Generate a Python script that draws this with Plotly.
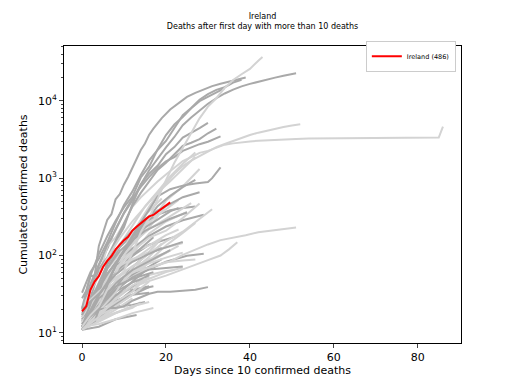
import plotly.graph_objects as go

DARK = "#a9a9a9"
LIGHT = "#d3d3d3"
RED = "#ff0000"

# ---------------- data (days since first day > 10 deaths, cumulated deaths) ----------------
ireland_days = list(range(22))
ireland_deaths = [19, 22, 36, 46, 54, 71, 85, 98, 120, 137, 158, 174, 210, 235, 263, 288, 320, 334, 365, 406, 444, 486]

# Europe (dark grey)
italy_days = [0, 2, 4, 6, 8, 10, 12, 14, 16, 18, 20, 22, 24, 26, 28, 30, 32, 34, 36, 38, 40, 42, 44, 46, 48, 50, 51]
italy_deaths = [12, 21, 34, 79, 148, 233, 463, 827, 1266, 1809, 2503, 3405, 4825, 6077, 7503, 9134, 10779, 12428, 13915, 15362, 16523, 17669, 18849, 19899, 21067, 22170, 22745]
spain_days = [0, 1, 2, 3, 4, 5, 6, 7, 8, 9, 10, 11, 12, 13, 14, 15, 16, 17, 19, 21, 23, 25, 27, 29, 31, 33, 35, 37, 39]
spain_deaths = [28, 35, 54, 55, 133, 195, 289, 342, 533, 623, 830, 1043, 1375, 1772, 2311, 2808, 3647, 4365, 5982, 7716, 9387, 11198, 12641, 14045, 15447, 16606, 17756, 18708, 20002]
france_days = [0, 2, 4, 6, 8, 10, 12, 14, 16, 18, 20, 22, 24, 26, 28, 30, 32, 34, 36, 38]
france_deaths = [33, 61, 91, 148, 264, 450, 674, 1100, 1696, 2314, 3024, 4403, 6507, 8078, 10328, 12210, 13832, 14967, 17167, 18681]
uk_days = [0, 2, 4, 6, 8, 10, 12, 14, 16, 18, 20, 22, 24, 26, 28, 30, 32, 34]
uk_deaths = [21, 55, 104, 177, 281, 422, 578, 1019, 1408, 2352, 3605, 4934, 6159, 7978, 9875, 11329, 12868, 14576]
germany_days = [0, 2, 4, 6, 8, 10, 12, 14, 16, 18, 20, 22, 24, 26, 28, 30, 32]
germany_deaths = [17, 28, 67, 94, 157, 267, 433, 645, 920, 1275, 1584, 2016, 2607, 2871, 3194, 3804, 4352]
netherlands_days = [0, 2, 4, 6, 8, 10, 12, 14, 16, 18, 20, 22, 24, 26, 28, 30, 32, 33]
netherlands_deaths = [20, 43, 76, 136, 213, 356, 546, 771, 1039, 1339, 1651, 1867, 2248, 2511, 2747, 2955, 3315, 3459]
belgium_days = [0, 2, 4, 6, 8, 10, 12, 14, 16, 18, 20, 22, 24, 26, 28, 30]
belgium_deaths = [14, 37, 75, 122, 220, 353, 513, 828, 1143, 1447, 2035, 2523, 3346, 3903, 4440, 5163]
sweden_days = [0, 3, 6, 9, 12, 15, 18, 21, 24, 27, 30, 31, 33]
sweden_deaths = [12, 25, 45, 95, 180, 330, 580, 720, 800, 850, 890, 1000, 1380]
switzerland_days = [0, 3, 6, 9, 12, 15, 18, 21, 24, 27]
switzerland_deaths = [11, 14, 41, 98, 153, 264, 433, 591, 765, 948]
portugal_days = [0, 3, 6, 9, 12, 15, 18, 21, 24, 28]
portugal_deaths = [12, 33, 76, 140, 209, 295, 380, 470, 567, 657]
austria_days = [0, 3, 6, 9, 12, 15, 18, 21, 24, 27]
austria_deaths = [16, 28, 68, 128, 186, 273, 337, 384, 410, 431]
denmark_days = [0, 4, 8, 12, 16, 20, 24, 29]
denmark_deaths = [13, 34, 72, 123, 179, 237, 285, 337]
romania_days = [0, 3, 6, 9, 12, 15, 18, 21, 23]
romania_deaths = [11, 23, 68, 115, 158, 230, 291, 372, 412]
poland_days = [0, 3, 6, 9, 12, 15, 18, 21, 25]
poland_deaths = [18, 31, 57, 94, 159, 208, 249, 299, 360]
norway_days = [0, 4, 8, 12, 16, 20, 24]
norway_deaths = [12, 23, 39, 71, 108, 128, 150]
czechia_days = [0, 4, 8, 12, 16, 20, 22]
czechia_deaths = [11, 31, 59, 99, 138, 161, 174]
russia_days = [0, 3, 6, 9, 12, 15, 17]
russia_deaths = [17, 34, 58, 94, 170, 273, 313]
greece_days = [0, 5, 10, 15, 20, 25, 29]
greece_deaths = [13, 22, 38, 63, 83, 99, 105]
hungary_days = [0, 4, 8, 12, 17]
hungary_deaths = [15, 32, 58, 99, 172]
finland_days = [0, 4, 8, 12, 16, 19]
finland_deaths = [11, 19, 34, 56, 72, 90]
luxembourg_days = [0, 4, 8, 12, 16, 20, 24]
luxembourg_deaths = [12, 22, 36, 52, 66, 69, 72]
slovenia_days = [0, 4, 8, 12, 17]
slovenia_deaths = [11, 28, 40, 50, 61]
serbia_days = [0, 4, 8, 12, 16, 21]
serbia_deaths = [12, 23, 44, 65, 85, 117]
ukraine_days = [0, 4, 8, 12, 16, 19]
ukraine_deaths = [20, 32, 57, 83, 105, 125]
croatia_days = [0, 4, 8, 12, 16]
croatia_deaths = [12, 16, 23, 31, 39]
bosnia_days = [0, 4, 8, 12, 17]
bosnia_deaths = [13, 17, 23, 35, 40]
moldova_days = [0, 4, 8, 12, 16]
moldova_deaths = [12, 20, 29, 40, 57]
macedonia_days = [0, 4, 8, 12, 16]
macedonia_deaths = [11, 20, 34, 45, 54]
bulgaria_days = [0, 4, 8, 12, 16]
bulgaria_deaths = [11, 17, 24, 36, 40]
albania_days = [0, 4, 8, 12, 15]
albania_deaths = [11, 16, 22, 23, 25]
andorra_days = [0, 4, 8, 12, 16]
andorra_deaths = [12, 21, 26, 31, 33]
estonia_days = [0, 4, 8, 12]
estonia_deaths = [12, 21, 31, 38]
cyprus_days = [0, 4, 8, 13]
cyprus_deaths = [11, 12, 15, 17]
sanmarino_days = [0, 2, 4, 6, 8, 10, 12, 14, 16, 18, 21, 24, 27, 30]
sanmarino_deaths = [11, 14, 20, 21, 21, 22, 26, 29, 32, 34, 34, 35, 36, 39]

# Rest of world (light grey)
china_days = [0, 1, 2, 3, 4, 5, 6, 8, 10, 12, 14, 16, 18, 20, 22, 24, 26, 28, 30, 32, 34, 36, 38, 40, 42, 45, 48, 51, 54, 57, 60, 63, 66, 69, 72, 75, 78, 81, 84, 85, 86]
china_deaths = [17, 18, 26, 42, 56, 82, 131, 171, 259, 426, 564, 719, 906, 1113, 1371, 1666, 1868, 2122, 2251, 2469, 2708, 2814, 2914, 2981, 3045, 3119, 3174, 3213, 3245, 3260, 3281, 3295, 3309, 3316, 3326, 3335, 3339, 3340, 3342, 3342, 4632]
us_days = [0, 2, 4, 6, 8, 10, 12, 14, 16, 18, 20, 22, 24, 26, 28, 30, 32, 34, 36, 38, 40, 42, 43]
us_deaths = [12, 17, 22, 36, 47, 63, 108, 200, 307, 552, 942, 1581, 2467, 3873, 5926, 8407, 10783, 14704, 18595, 22032, 25831, 32916, 36773]
iran_days = [0, 2, 4, 6, 8, 10, 12, 14, 16, 18, 20, 22, 24, 26, 28, 30, 32, 34, 36, 38, 40, 42, 44, 46, 48, 50, 52]
iran_deaths = [16, 26, 43, 66, 92, 124, 194, 291, 429, 611, 853, 1135, 1433, 1685, 1934, 2234, 2517, 2757, 3036, 3294, 3603, 3872, 4110, 4357, 4585, 4777, 4958]
korea_days = [0, 3, 6, 9, 12, 15, 18, 21, 24, 27, 30, 33, 36, 39, 42, 45, 48, 51]
korea_deaths = [12, 16, 28, 42, 53, 66, 75, 84, 102, 120, 139, 158, 169, 183, 200, 211, 222, 230]
japan_days = [0, 5, 10, 15, 20, 25, 30, 33, 35, 37]
japan_deaths = [12, 19, 35, 45, 55, 70, 87, 100, 120, 148]
turkey_days = [0, 3, 6, 9, 12, 15, 18, 21, 24, 27]
turkey_deaths = [21, 44, 92, 168, 277, 425, 649, 908, 1296, 1890]
brazil_days = [0, 3, 6, 9, 12, 15, 18, 21, 24, 27]
brazil_deaths = [15, 34, 77, 136, 241, 432, 667, 1056, 1532, 2141]
canada_days = [0, 4, 8, 12, 16, 20, 24, 28]
canada_deaths = [12, 27, 61, 139, 258, 509, 780, 1310]
india_days = [0, 4, 8, 12, 16, 20, 23]
india_deaths = [11, 27, 58, 169, 273, 392, 521]
mexico_days = [0, 3, 6, 9, 12, 15, 19]
mexico_deaths = [16, 29, 50, 94, 194, 332, 546]
indonesia_days = [0, 4, 8, 12, 16, 20, 24, 28]
indonesia_deaths = [19, 38, 78, 114, 170, 209, 306, 469]
philippines_days = [0, 4, 8, 12, 16, 20, 24, 28, 31]
philippines_deaths = [12, 19, 33, 71, 107, 152, 203, 297, 397]
ecuador_days = [0, 4, 8, 12, 16, 20, 26]
ecuador_deaths = [14, 34, 79, 145, 220, 297, 474]
algeria_days = [0, 4, 8, 12, 16, 20, 25]
algeria_deaths = [17, 25, 58, 105, 193, 275, 367]
egypt_days = [0, 4, 8, 12, 16, 20, 24, 27]
egypt_deaths = [14, 20, 30, 46, 85, 135, 196, 264]
iraq_days = [0, 4, 8, 12, 16, 20, 24]
iraq_deaths = [11, 20, 27, 40, 50, 61, 70]
israel_days = [0, 4, 8, 12, 16, 19]
israel_deaths = [12, 25, 57, 86, 123, 164]
peru_days = [0, 4, 8, 12, 16, 20]
peru_deaths = [11, 38, 83, 138, 230, 445]
dominican_days = [0, 4, 8, 12, 16, 20, 23]
dominican_deaths = [20, 42, 68, 108, 135, 183, 217]
pakistan_days = [0, 4, 8, 12, 16, 19]
pakistan_deaths = [11, 26, 45, 63, 96, 143]
argentina_days = [0, 4, 8, 12, 16, 20, 23]
argentina_deaths = [12, 24, 36, 65, 90, 109, 133]
colombia_days = [0, 4, 8, 12, 16, 19]
colombia_deaths = [16, 35, 50, 69, 112, 166]
chile_days = [0, 4, 8, 12, 16, 21]
chile_deaths = [12, 22, 37, 57, 82, 116]
panama_days = [0, 4, 8, 12, 16, 20, 24]
panama_deaths = [12, 27, 46, 63, 79, 94, 109]
morocco_days = [0, 4, 8, 12, 16, 20, 24]
morocco_deaths = [11, 33, 70, 90, 111, 127, 145]
australia_days = [0, 4, 8, 12, 16, 20, 22]
australia_deaths = [13, 20, 30, 45, 56, 63, 65]
malaysia_days = [0, 4, 8, 12, 16, 20, 24, 27]
malaysia_deaths = [14, 27, 43, 61, 70, 82, 86, 89]
saudi_days = [0, 4, 8, 12, 15]
saudi_deaths = [21, 34, 52, 73, 83]
southafrica_days = [0, 4, 8, 12, 15]
southafrica_deaths = [11, 18, 25, 34, 50]
bangladesh_days = [0, 3, 6, 9]
bangladesh_deaths = [12, 21, 39, 75]
lebanon_days = [0, 4, 8, 12, 17]
lebanon_deaths = [12, 13, 15, 18, 21]
tunisia_days = [0, 4, 8, 12, 16]
tunisia_deaths = [11, 14, 18, 22, 25]
burkina_days = [0, 5, 10, 14]
burkina_deaths = [12, 16, 20, 24]
cuba_days = [0, 4, 8, 11]
cuba_deaths = [13, 17, 21, 22]
honduras_days = [0, 4, 8, 12, 16]
honduras_deaths = [11, 15, 22, 31, 46]
bolivia_days = [0, 4, 8, 12]
bolivia_deaths = [11, 15, 20, 28]
uae_days = [0, 4, 8, 12, 16]
uae_deaths = [11, 16, 28, 41, 52]
afghanistan_days = [0, 4, 8, 12, 14]
afghanistan_deaths = [11, 15, 18, 21, 25]
cameroon_days = [0, 4, 8, 12]
cameroon_deaths = [12, 14, 18, 22]

# drawing order (alphabetical, as a country loop would produce)
series = [
    (afghanistan_days, afghanistan_deaths, LIGHT),
    (albania_days, albania_deaths, DARK), (algeria_days, algeria_deaths, LIGHT),
    (andorra_days, andorra_deaths, DARK), (argentina_days, argentina_deaths, LIGHT),
    (australia_days, australia_deaths, LIGHT), (austria_days, austria_deaths, DARK),
    (bangladesh_days, bangladesh_deaths, LIGHT), (belgium_days, belgium_deaths, DARK),
    (bolivia_days, bolivia_deaths, LIGHT),
    (bosnia_days, bosnia_deaths, DARK), (brazil_days, brazil_deaths, LIGHT),
    (bulgaria_days, bulgaria_deaths, DARK), (burkina_days, burkina_deaths, LIGHT),
    (cameroon_days, cameroon_deaths, LIGHT),
    (canada_days, canada_deaths, LIGHT), (chile_days, chile_deaths, LIGHT),
    (china_days, china_deaths, LIGHT), (colombia_days, colombia_deaths, LIGHT),
    (croatia_days, croatia_deaths, DARK), (cuba_days, cuba_deaths, LIGHT),
    (cyprus_days, cyprus_deaths, DARK), (czechia_days, czechia_deaths, DARK),
    (denmark_days, denmark_deaths, DARK), (dominican_days, dominican_deaths, LIGHT),
    (ecuador_days, ecuador_deaths, LIGHT), (egypt_days, egypt_deaths, LIGHT),
    (estonia_days, estonia_deaths, DARK), (finland_days, finland_deaths, DARK),
    (france_days, france_deaths, DARK), (germany_days, germany_deaths, DARK),
    (greece_days, greece_deaths, DARK), (honduras_days, honduras_deaths, LIGHT),
    (hungary_days, hungary_deaths, DARK),
    (india_days, india_deaths, LIGHT), (indonesia_days, indonesia_deaths, LIGHT),
    (iran_days, iran_deaths, LIGHT), (iraq_days, iraq_deaths, LIGHT),
    (israel_days, israel_deaths, LIGHT), (italy_days, italy_deaths, DARK),
    (japan_days, japan_deaths, LIGHT), (korea_days, korea_deaths, LIGHT),
    (lebanon_days, lebanon_deaths, LIGHT), (luxembourg_days, luxembourg_deaths, DARK),
    (macedonia_days, macedonia_deaths, DARK), (malaysia_days, malaysia_deaths, LIGHT),
    (mexico_days, mexico_deaths, LIGHT), (moldova_days, moldova_deaths, DARK),
    (morocco_days, morocco_deaths, LIGHT), (netherlands_days, netherlands_deaths, DARK),
    (norway_days, norway_deaths, DARK), (pakistan_days, pakistan_deaths, LIGHT),
    (panama_days, panama_deaths, LIGHT), (peru_days, peru_deaths, LIGHT),
    (philippines_days, philippines_deaths, LIGHT), (poland_days, poland_deaths, DARK),
    (portugal_days, portugal_deaths, DARK), (romania_days, romania_deaths, DARK),
    (russia_days, russia_deaths, DARK), (sanmarino_days, sanmarino_deaths, DARK),
    (saudi_days, saudi_deaths, LIGHT), (serbia_days, serbia_deaths, DARK),
    (slovenia_days, slovenia_deaths, DARK), (southafrica_days, southafrica_deaths, LIGHT),
    (spain_days, spain_deaths, DARK), (sweden_days, sweden_deaths, DARK),
    (switzerland_days, switzerland_deaths, DARK), (tunisia_days, tunisia_deaths, LIGHT),
    (turkey_days, turkey_deaths, LIGHT), (uae_days, uae_deaths, LIGHT),
    (ukraine_days, ukraine_deaths, DARK),
    (uk_days, uk_deaths, DARK), (us_days, us_deaths, LIGHT),
]

x_ticks = [0, 20, 40, 60, 80]
y_ticks = [10, 100, 1000, 10000]
y_tick_text = ["10<sup>1</sup>", "10<sup>2</sup>", "10<sup>3</sup>", "10<sup>4</sup>"]

fig = go.Figure()
for days, deaths, color in series:
    fig.add_trace(go.Scatter(x=days, y=deaths, mode="lines",
                             line=dict(color=color, width=2),
                             showlegend=False, hoverinfo="skip"))
fig.add_trace(go.Scatter(x=ireland_days, y=ireland_deaths, mode="lines",
                         line=dict(color=RED, width=2), name="Ireland (486)"))

minor_vals = [m * 10 ** e for e in range(0, 5) for m in range(2, 10)]

# the page body adds an 8 px offset; the figure is sized to fill the rest of the window
fig.update_layout(
    width=504, height=376,
    margin=dict(l=56, r=51, t=38, b=41, pad=0),
    paper_bgcolor="white", plot_bgcolor="white",
    font=dict(family="DejaVu Sans", size=11, color="black"),
    title=dict(text="Ireland<br>Deaths after first day with more than 10 deaths",
               font=dict(size=8), x=0.5, xref="paper", xanchor="center",
               y=1 - 11 / 376, yref="container", yanchor="top", automargin=False),
    legend=dict(x=0.987, y=1.018, xanchor="right", yanchor="top",
                bgcolor="white", bordercolor="#cccccc", borderwidth=1,
                font=dict(size=6.5), itemwidth=30, tracegroupgap=0),
    xaxis=dict(range=[-4.3, 90.3], tickvals=x_ticks, ticks="outside", ticklen=4,
               tickfont=dict(size=11), automargin=False,
               showline=True, linecolor="black", linewidth=1, mirror=True,
               showgrid=False, zeroline=False,
               title=dict(text="Days since 10 confirmed deaths", font=dict(size=11), standoff=2)),
    yaxis=dict(type="log", range=[0.869, 4.708], tickvals=y_ticks, ticktext=y_tick_text,
               ticks="outside", ticklen=4, tickfont=dict(size=11), automargin=False,
               minor=dict(tickvals=minor_vals, ticks="outside", ticklen=2, showgrid=False),
               showline=True, linecolor="black", linewidth=1, mirror=True,
               showgrid=False, zeroline=False,
               title=dict(text="Cumulated confirmed deaths", font=dict(size=11), standoff=8)),
)

fig.write_html("out.html")
